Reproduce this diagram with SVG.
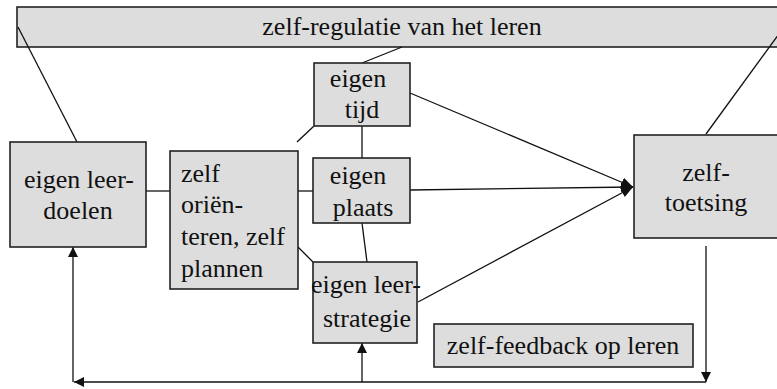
<svg xmlns="http://www.w3.org/2000/svg" width="777" height="389" viewBox="0 0 777 389">
<defs>
<style>
.box{fill:#dddddd;stroke:#222;stroke-width:1.6}
text{font-family:'Liberation Serif','Times New Roman','DejaVu Serif',serif;font-size:26px;fill:#111}
.c{text-anchor:middle}
.ln{stroke:#111;stroke-width:1.3;fill:none}
</style>
<marker id="ah" viewBox="0 0 10 10" refX="10" refY="5" markerWidth="10" markerHeight="10" markerUnits="userSpaceOnUse" orient="auto">
<path d="M0,0 L10,5 L0,10 Z" fill="#111"/>
</marker>
<marker id="ahb" viewBox="0 0 12 10" refX="12" refY="5" markerWidth="12" markerHeight="12" markerUnits="userSpaceOnUse" orient="auto">
<path d="M0,0 L12,5 L0,10 Z" fill="#111"/>
</marker>
</defs>
<rect width="777" height="389" fill="#fff"/>
<g id="banner">
<rect class="box" x="17" y="7" width="775" height="40"/>
<text class="c" x="402" y="35" font-size="26.5">zelf-regulatie van het leren</text>
</g>
<g id="connectors">
<line class="ln" x1="18" y1="27" x2="77" y2="142"/>
<line class="ln" x1="784" y1="27" x2="706" y2="134"/>
<line class="ln" x1="402" y1="47" x2="362" y2="63"/>
<line class="ln" x1="146" y1="191" x2="170" y2="191"/>
<line class="ln" x1="298" y1="191" x2="313" y2="191"/>
<line class="ln" x1="298" y1="247" x2="313" y2="262"/>
<line class="ln" x1="297" y1="142" x2="314" y2="126"/>
<line class="ln" x1="362" y1="126" x2="362" y2="158"/>
<line class="ln" x1="362" y1="223" x2="367" y2="262"/>
<line class="ln" x1="410" y1="93" x2="633" y2="187" marker-end="url(#ahb)"/>
<line class="ln" x1="410" y1="190" x2="633" y2="187" marker-end="url(#ahb)"/>
<line class="ln" x1="418" y1="302" x2="633" y2="187" marker-end="url(#ahb)"/>
<line class="ln" x1="706" y1="246" x2="706" y2="382" marker-end="url(#ah)"/>
<line class="ln" x1="706" y1="382" x2="74" y2="382" marker-end="url(#ah)"/>
<line class="ln" x1="73" y1="382" x2="73" y2="247" marker-end="url(#ah)"/>
<line class="ln" x1="362" y1="382" x2="362" y2="343" marker-end="url(#ah)"/>
</g>
<g id="leerdoelen">
<rect class="box" x="10" y="142" width="136" height="105"/>
<text class="c" x="79" y="188">eigen leer-</text>
<text class="c" x="78" y="219">doelen</text>
</g>
<g id="orienteren">
<rect class="box" x="170" y="151" width="128" height="138"/>
<text x="181" y="182">zelf</text>
<text x="181" y="213">oriën-</text>
<text x="181" y="245">teren, zelf</text>
<text x="181" y="277">plannen</text>
</g>
<g id="tijd">
<rect class="box" x="314" y="63" width="96" height="63"/>
<text class="c" x="358" y="87">eigen</text>
<text class="c" x="362" y="118">tijd</text>
</g>
<g id="plaats">
<rect class="box" x="313" y="158" width="97" height="65"/>
<text class="c" x="358" y="184">eigen</text>
<text class="c" x="363" y="216">plaats</text>
</g>
<g id="strategie">
<rect class="box" x="313" y="262" width="104" height="81"/>
<text class="c" x="366" y="293">eigen leer-</text>
<text class="c" x="367" y="327">strategie</text>
</g>
<g id="toetsing">
<rect class="box" x="634" y="135" width="144" height="103"/>
<text class="c" x="706" y="181">zelf-</text>
<text class="c" x="706" y="211">toetsing</text>
</g>
<g id="feedback">
<rect class="box" x="434" y="324" width="259" height="43"/>
<text class="c" x="563" y="354">zelf-feedback op leren</text>
</g>
</svg>
